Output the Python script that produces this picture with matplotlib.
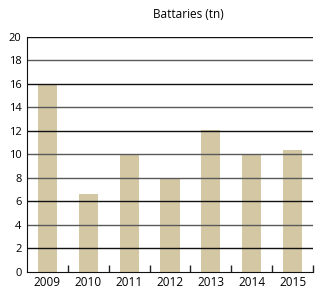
import matplotlib
matplotlib.use("Agg")
import matplotlib.pyplot as plt
import numpy as np

years = ["2009", "2010", "2011", "2012", "2013", "2014", "2015"]
values = [16, 6.6, 10, 7.9, 12.1, 10, 10.4]
yticks = [0, 2, 4, 6, 8, 10, 12, 14, 16, 18, 20]
title = "Battaries (tn)"

plt.rcParams['font.family'] = ['Open Sans', 'DejaVu Sans']

fig = plt.figure(figsize=(3.15, 2.9), dpi=100)
ax = fig.add_axes([27/315, 1 - 271.7/290, (313-27)/315, (271.7-36.7)/290])

x = np.arange(len(years))
ax.bar(x, values, width=0.47, color="#d3c7a4", zorder=1)

dark, grey = "#111111", "#5a5a5a"
grid_colors = [dark, grey, dark, grey, grey, dark, grey, dark, grey, dark]
for t, c in zip(yticks[1:], grid_colors):
    ax.axhline(t, color=c, lw=1.0, zorder=2)

ax.set_xlim(-0.5, len(years) - 0.5)
ax.set_ylim(0, 20)
ax.set_yticks(yticks)
ax.set_yticklabels([str(t) for t in yticks], fontsize=8)
ax.tick_params(axis='y', length=0, pad=4)
ax.set_xticks(x)
ax.set_xticklabels(years, fontsize=8.5)
ax.set_xticks(np.arange(len(years)) + 0.5, minor=True)
ax.tick_params(axis='x', which='major', length=0, pad=3)
ax.tick_params(axis='x', which='minor', direction='in', length=5, width=1, color='#222222')

for s in ['top', 'right']:
    ax.spines[s].set_visible(False)
ax.spines['left'].set_color('#111111')
ax.spines['bottom'].set_color('#111111')

fig.text(188/315, 1 - 14/290, title, ha='center', va='center', fontsize=8.5)

fig.savefig("out.png", dpi=100)
